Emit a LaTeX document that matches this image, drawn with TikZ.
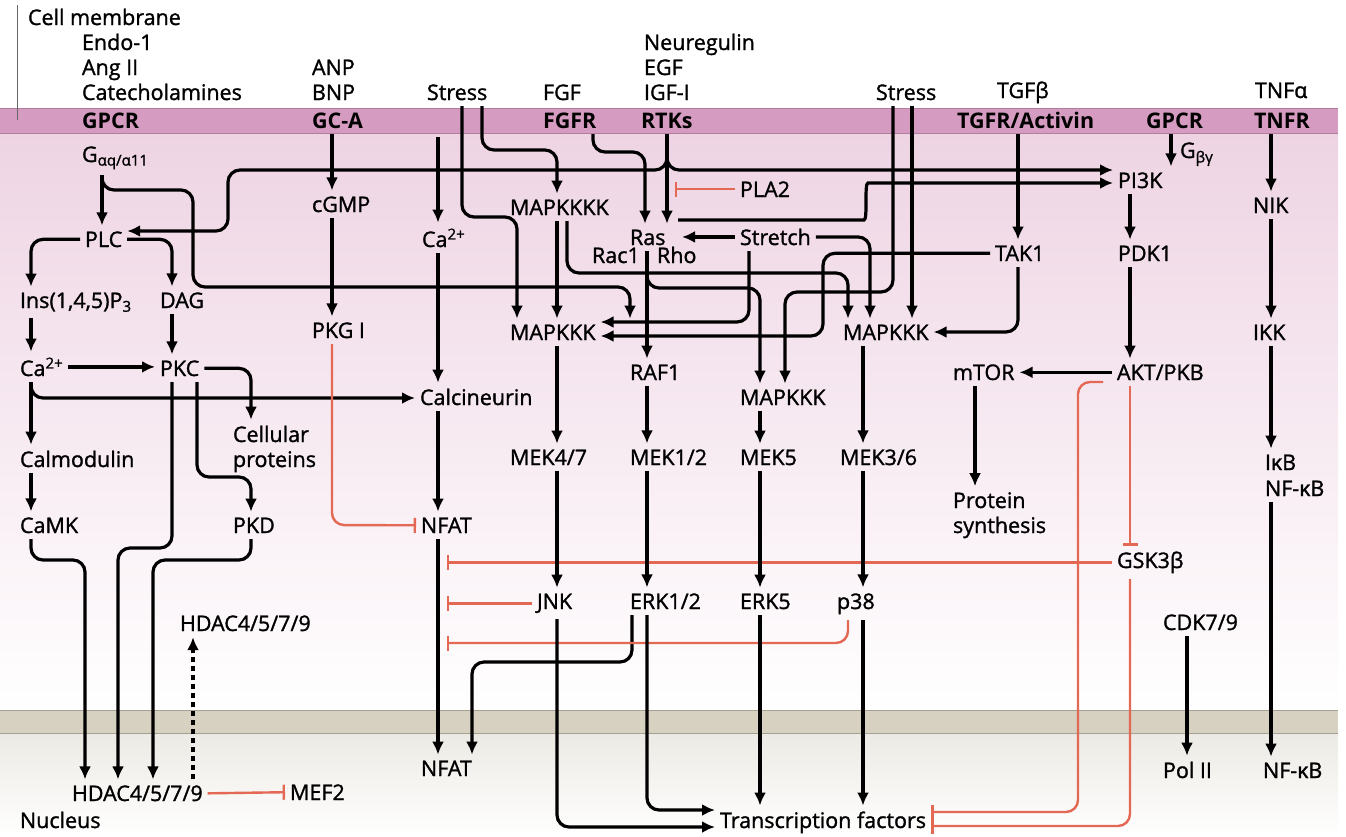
\documentclass[tikz,border=0pt]{standalone}
\usepackage{fontspec}
\setmainfont{Open Sans}
\newfontfamily\medfont[FakeBold=1.3]{Open Sans}
\usetikzlibrary{arrows.meta}
\definecolor{inhred}{RGB}{228,105,85}
\definecolor{memband}{RGB}{214,155,192}
\definecolor{memline}{RGB}{180,125,160}
\definecolor{cyto}{RGB}{238,212,227}
\definecolor{nucband}{RGB}{214,209,193}
\definecolor{nucline}{RGB}{165,160,145}
\definecolor{nucfade}{RGB}{236,234,228}
\newcommand{\fsz}{\fontsize{21.5}{25}\selectfont}
\begin{document}
\begin{tikzpicture}[x=1pt,y=-1pt,
  lbl/.style={anchor=base west, inner sep=0pt, outer xsep=5pt, outer ysep=6pt, xshift=-5pt, font=\medfont\fsz},
  mem/.style={lbl, font=\fsz\bfseries},
  arr/.style={line width=3.2pt, -{Latex[length=13pt,width=12pt]}, rounded corners=12pt},
  inh/.style={line width=2.4pt, draw=inhred, -{Bar[width=15pt]}, rounded corners=12pt},
  dotarr/.style={line width=3.2pt, dash pattern=on 5pt off 4pt, -{Latex[length=13pt,width=12pt]}}]
\useasboundingbox (0,0) rectangle (1346,836);
% backgrounds
\shade[top color=cyto, bottom color=white] (0,133) rectangle (1338,712);
\fill[memband] (0,108) rectangle (1338,133);
\draw[memline, line width=0.8pt] (0,108) -- (1338,108) (0,133) -- (1338,133);
\shade[top color=nucfade, bottom color=white] (0,733) rectangle (1338,836);
\fill[nucband] (0,710) rectangle (1338,733);
\draw[nucline, line width=0.8pt] (0,710) -- (1338,710) (0,733) -- (1338,733);
\draw[black!60, line width=0.8pt] (17,5) -- (17,120);
% top labels
\node[lbl] (cellmem) at (28,25) {Cell membrane};
\node[lbl] (endo) at (82,50) {Endo-1};
\node[lbl] (angii) at (82,75) {Ang II};
\node[lbl] (cat) at (82,100) {Catecholamines};
\node[lbl] (anp) at (312,75) {ANP};
\node[lbl] (bnp) at (312,100) {BNP};
\node[lbl] (stressL) at (427,100) {Stress};
\node[lbl] (fgf) at (543,100) {FGF};
\node[lbl] (neur) at (644,50) {Neuregulin};
\node[lbl] (egf) at (644,75) {EGF};
\node[lbl] (igf) at (644,100) {IGF-I};
\node[lbl] (stressR) at (876,100) {Stress};
\node[lbl] (tgfb) at (997,98) {TGFβ};
\node[lbl] (tnfa) at (1255,98) {TNFα};
% membrane
\node[mem] (gpcrL) at (82,128) {GPCR};
\node[mem] (gca) at (312,128) {GC-A};
\node[mem] (fgfr) at (543,128) {FGFR};
\node[mem] (rtks) at (641,128) {RTKs};
\node[mem] (tgfr) at (957,128) {TGFR/Activin};
\node[mem] (gpcrR) at (1146,128) {GPCR};
\node[mem] (tnfr) at (1254,128) {TNFR};
% cytoplasm
\node[lbl] (gaq) at (82,162) {G\textsubscript{αq/α11}};
\node[lbl] (plc) at (85,247) {PLC};
\node[lbl] (ins) at (20,308) {Ins(1,4,5)P\textsubscript{3}};
\node[lbl] (dag) at (160,308) {DAG};
\node[lbl] (ca1) at (20,376) {Ca\textsuperscript{2+}};
\node[lbl] (pkc) at (160,376) {PKC};
\node[lbl] (calcin) at (420,405) {Calcineurin};
\node[lbl] (cellA) at (233,442) {Cellular};
\node[lbl] (cellB) at (233,467) {proteins};
\node[lbl] (calmod) at (20,467) {Calmodulin};
\node[lbl] (camk) at (20,533) {CaMK};
\node[lbl] (pkd) at (233,533) {PKD};
\node[lbl] (nfat1) at (421,533) {NFAT};
\node[lbl] (cgmp) at (312,212) {cGMP};
\node[lbl] (pkg) at (312,338) {PKG I};
\node[lbl] (ca2) at (422,247) {Ca\textsuperscript{2+}};
\node[lbl] (mapk4) at (510,215) {MAPKKKK};
\node[lbl] (ras) at (630,245) {Ras};
\node[lbl] (rac) at (592,263) {Rac1};
\node[lbl] (rho) at (657,263) {Rho};
\node[lbl] (stretch) at (740,245) {Stretch};
\node[lbl] (pla2) at (740,197) {PLA2};
\node[lbl] (pi3k) at (1118,188) {PI3K};
\node[lbl] (gbg) at (1180,158) {G\textsubscript{βγ}};
\node[lbl] (nik) at (1253,213) {NIK};
\node[lbl] (tak1) at (995,261) {TAK1};
\node[lbl] (pdk1) at (1118,261) {PDK1};
\node[lbl] (ikk) at (1253,340) {IKK};
\node[lbl] (mapk3L) at (510,340) {MAPKKK};
\node[lbl] (mapk3R) at (843,340) {MAPKKK};
\node[lbl] (raf1) at (630,380) {RAF1};
\node[lbl] (mapk3M) at (740,405) {MAPKKK};
\node[lbl] (mtor) at (953,380) {mTOR};
\node[lbl] (akt) at (1117,380) {AKT/PKB};
\node[lbl] (mek47) at (510,465) {MEK4/7};
\node[lbl] (mek12) at (630,465) {MEK1/2};
\node[lbl] (mek5) at (740,465) {MEK5};
\node[lbl] (mek36) at (840,465) {MEK3/6};
\node[lbl] (protA) at (953,508) {Protein};
\node[lbl] (protB) at (953,533) {synthesis};
\node[lbl] (ikb) at (1265,470) {IκB};
\node[lbl] (nfkb1) at (1265,496) {NF-κB};
\node[lbl] (gsk) at (1117,568) {GSK3β};
\node[lbl] (jnk) at (537,609) {JNK};
\node[lbl] (erk12) at (630,609) {ERK1/2};
\node[lbl] (erk5) at (740,609) {ERK5};
\node[lbl] (p38) at (837,609) {p38};
\node[lbl] (hdacU) at (180,631) {HDAC4/5/7/9};
\node[lbl] (cdk) at (1163,630) {CDK7/9};
% nucleus
\node[lbl] (nfat2) at (421,776) {NFAT};
\node[lbl] (pol) at (1163,778) {Pol II};
\node[lbl] (nfkb2) at (1263,778) {NF-κB};
\node[lbl] (hdacN) at (72,801) {HDAC4/5/7/9};
\node[lbl] (mef2) at (290,800) {MEF2};
\node[lbl] (nucleus) at (20,828) {Nucleus};
\node[lbl] (tf) at (720,828) {Transcription factors};
% free ends
\coordinate (m438) at (438,137);
\coordinate (rasout) at (678,220);
\coordinate (aktout) at (1103,382);
\coordinate (nfbar) at (447,643);
% GPCR / PLC branch
\draw[arr] (gaq.south -| 102,0) -- (plc.north -| 102,0);
\draw[arr] (gaq.south -| 102,0) -- (102,190) -- (193,190) -- (193,287) -- (630,287) -- (mapk3L.north -| 630,0);
\draw[arr] (plc.west) -- (31,0 |- plc.west) -- (ins.north -| 31,0);
\draw[arr] (plc.east) -- (172,0 |- plc.east) -- (dag.north -| 172,0);
\draw[arr] (ins.south -| 31,0) -- (ca1.north -| 31,0);
\draw[arr] (dag.south -| 172,0) -- (pkc.north -| 172,0);
\draw[arr] (ca1.east) -- (ca1.east -| pkc.west);
\draw[arr] (ca1.south -| 31,0) -- (calmod.north -| 31,0);
\draw[arr] (ca1.south -| 31,0) -- (31,398) -- (calcin.west |- 0,398);
\draw[arr] (calmod.south -| 31,0) -- (camk.north -| 31,0);
\draw[arr] (camk.south -| 31,0) -- (31,560) -- (85,560) -- (hdacN.north -| 85,0);
\draw[arr] (pkc.south -| 172,0) -- (172,548) -- (118,548) -- (hdacN.north -| 118,0);
\draw[arr] (pkc.south -| 197,0) -- (197,477) -- (251,477) -- (pkd.north -| 251,0);
\draw[arr] (pkd.south -| 251,0) -- (251,560) -- (153,560) -- (hdacN.north -| 153,0);
\draw[arr] (pkc.east) -- (251,0 |- pkc.east) -- (cellA.north -| 251,0);
\draw[dotarr] (hdacN.north -| 193,0) -- (hdacU.south -| 193,0);
\draw[inh] (hdacN.east) -- (mef2.west);
% GC-A
\draw[arr] (gca.south -| 332,0) -- (cgmp.north -| 332,0);
\draw[arr] (cgmp.south -| 332,0) -- (pkg.north -| 332,0);
\draw[inh] (pkg.south -| 332,0) -- (332,525) -- (nfat1.west);
% Calcium / NFAT
\draw[arr] (m438) -- (ca2.north -| 438,0);
\draw[arr] (ca2.south -| 438,0) -- (calcin.north -| 438,0);
\draw[arr] (calcin.south -| 438,0) -- (nfat1.north -| 438,0);
\draw[arr] (nfat1.south -| 438,0) -- (nfat2.north -| 438,0);
\draw[arr] (erk12.south -| 632,0) -- (632,662) -- (472,662) -- (nfat2.north -| 472,0);
% stress left
\draw[arr] (stressL.south -| 462,0) -- (462,217) -- (517,217) -- (mapk3L.north -| 517,0);
\draw[arr] (stressL.south -| 482,0) -- (482,150) -- (557,150) -- (mapk4.north -| 557,0);
\draw[arr] (mapk4.south -| 557,0) -- (mapk3L.north -| 557,0);
\draw[arr] (mapk4.south -| 567,0) -- (567,273) -- (848,273) -- (mapk3R.north -| 848,0);
% FGFR / RTKs
\draw[arr] (fgfr.south -| 593,0) -- (593,152) -- (645,152) -- (ras.north -| 645,0);
\draw[arr] (rtks.south -| 667,0) -- (ras.north -| 667,0);
\draw[arr] (rtks.south -| 667,0) -- (667,170) -- (228,170) -- (228,231) -- (plc.east |- 0,231);
\draw[arr] (rtks.south -| 667,0) -- (667,170) -- (pi3k.west |- 0,170);
\draw[arr] (rasout) -- (852,220) .. controls (868,220) and (864,183) .. (880,183) -- (pi3k.west |- 0,183);
\draw[arr] (gpcrR.south -| 1171,0) -- (pi3k.north -| 1171,0);
\draw[inh] (pla2.west) -- (pla2.west -| 675,0);
% stretch
\draw[arr] (stretch.west) -- (stretch.west -| 682,0);
\draw[arr] (stretch.east) -- (stretch.east -| 870,0) -- (mapk3R.north -| 870,0);
\draw[arr] (stretch.south -| 749,0) -- (749,322) -- (mapk3L.east |- 0,322);
\draw[arr] (tak1.west) -- (tak1.west -| 823,0) -- (823,336) -- (mapk3L.east |- 0,336);
% Ras / Rac / Rho
\draw[arr] (ras.south -| 647,0) -- (raf1.north -| 647,0);
\draw[arr] (ras.south -| 647,0) -- (647,288) -- (760,288) -- (mapk3M.north -| 760,0);
\draw[arr] (stressR.south -| 893,0) -- (893,292) -- (785,292) -- (mapk3M.north -| 785,0);
\draw[arr] (stressR.south -| 912,0) -- (mapk3R.north -| 912,0);
% TGF / PI3K
\draw[arr] (tak1.south -| 1018,0) -- (1018,332) -- (mapk3R.east |- 0,332);
\draw[arr] (tgfr.south -| 1018,0) -- (tak1.north -| 1018,0);
\draw[arr] (pi3k.south -| 1130,0) -- (pdk1.north -| 1130,0);
\draw[arr] (pdk1.south -| 1130,0) -- (akt.north -| 1130,0);
\draw[arr] (akt.west) -- (akt.west -| mtor.east);
\draw[arr] (mtor.south -| 975,0) -- (protA.north -| 975,0);
\draw[inh] (akt.south -| 1130,0) -- (gsk.north -| 1130,0);
\draw[inh] (aktout) -- (1078,382) -- (1078,812) -- (tf.east |- 0,812);
\draw[inh] (gsk.south -| 1130,0) -- (1130,826) -- (tf.east |- 0,826);
\draw[inh] (gsk.west) -- (gsk.west -| 447,0);
\draw[inh] (jnk.west) -- (jnk.west -| 447,0);
\draw[inh] (p38.south -| 848,0) -- (848,643) -- (nfbar);
% MAPK cascades
\draw[arr] (mapk3L.south -| 557,0) -- (mek47.north -| 557,0);
\draw[arr] (raf1.south -| 647,0) -- (mek12.north -| 647,0);
\draw[arr] (mapk3M.south -| 760,0) -- (mek5.north -| 760,0);
\draw[arr] (mapk3R.south -| 863,0) -- (mek36.north -| 863,0);
\draw[arr] (mek47.south -| 557,0) -- (jnk.north -| 557,0);
\draw[arr] (mek12.south -| 647,0) -- (erk12.north -| 647,0);
\draw[arr] (mek5.south -| 760,0) -- (erk5.north -| 760,0);
\draw[arr] (mek36.south -| 863,0) -- (p38.north -| 863,0);
\draw[arr] (jnk.south -| 557,0) -- (557,827) -- (tf.west |- 0,827);
\draw[arr] (erk12.south -| 647,0) -- (647,810) -- (tf.west |- 0,810);
\draw[arr] (erk5.south -| 760,0) -- (tf.north -| 760,0);
\draw[arr] (p38.south -| 863,0) -- (tf.north -| 863,0);
% TNF / CDK
\draw[arr] (tnfr.south -| 1271,0) -- (nik.north -| 1271,0);
\draw[arr] (nik.south -| 1271,0) -- (ikk.north -| 1271,0);
\draw[arr] (ikk.south -| 1271,0) -- (ikb.north -| 1271,0);
\draw[arr] (nfkb1.south -| 1271,0) -- (nfkb2.north -| 1271,0);
\draw[arr] (cdk.south -| 1187,0) -- (pol.north -| 1187,0);
\end{tikzpicture}
\end{document}
